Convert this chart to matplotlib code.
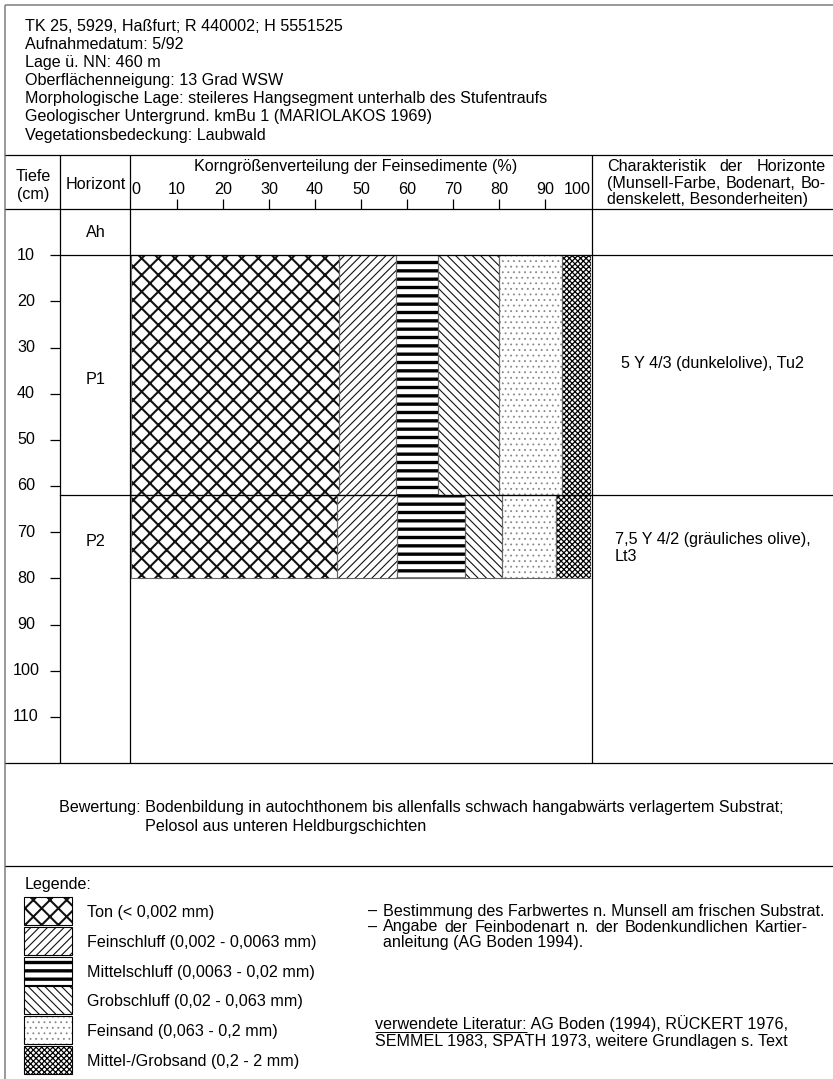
import matplotlib
matplotlib.use("Agg")
import matplotlib.pyplot as plt
import matplotlib.transforms as mtransforms
from matplotlib.patches import Rectangle
import numpy as np

# ---------------------------------------------------------------- data
header_lines = [
    "TK 25, 5929, Haßfurt; R 440002; H 5551525",
    "Aufnahmedatum: 5/92",
    "Lage ü. NN: 460 m",
    "Oberflächenneigung: 13 Grad WSW",
    "Morphologische Lage: steileres Hangsegment unterhalb des Stufentraufs",
    "Geologischer Untergrund. kmBu 1 (MARIOLAKOS 1969)",
    "Vegetationsbedeckung: Laubwald",
]

fractions = [
    "Ton (< 0,002 mm)",
    "Feinschluff (0,002 - 0,0063 mm)",
    "Mittelschluff (0,0063 - 0,02 mm)",
    "Grobschluff (0,02 - 0,063 mm)",
    "Feinsand (0,063 - 0,2 mm)",
    "Mittel-/Grobsand (0,2 - 2 mm)",
]

horizons = ["Ah", "P1", "P2"]
horizon_top = [0, 10, 62]
horizon_bottom = [10, 62, 80]

# grain size distribution (%) per sampled horizon
p1_values = [45.3, 12.4, 9.1, 13.3, 13.7, 6.2]
p2_values = [44.7, 13.2, 14.7, 8.1, 11.6, 7.7]
sampled = {"P1": p1_values, "P2": p2_values}

horizon_notes = {
    "P1": ["5 Y 4/3 (dunkelolive), Tu2"],
    "P2": ["7,5 Y 4/2 (gräuliches olive),", "Lt3"],
}

depth_ticks = [10, 20, 30, 40, 50, 60, 70, 80, 90, 100, 110]
pct_ticks = [0, 10, 20, 30, 40, 50, 60, 70, 80, 90, 100]
depth_max = 120

bewertung = [
    "Bewertung: Bodenbildung in autochthonem bis allenfalls schwach hangabwärts verlagertem Substrat;",
    "Pelosol aus unteren Heldburgschichten",
]
notes = [
    "Bestimmung des Farbwertes n. Munsell am frischen Substrat.",
    "Angabe der Feinbodenart n. der Bodenkundlichen Kartier-",
    "anleitung (AG Boden 1994).",
]
lit_head = "verwendete Literatur:"
lit_lines = [
    " AG Boden (1994), RÜCKERT 1976,",
    "SEMMEL 1983, SPÄTH 1973, weitere Grundlagen s. Text",
]

# ---------------------------------------------------------------- styles
hatches = ["xx", "////", "--", "\\\\\\\\", "...", "x" * 6]
hatch_lw = [1.5, 0.8, 2.4, 0.8, 0.6, 0.9]
hatch_col = ["#111111", "#111111", "#000000", "#111111", "#888888", "#000000"]

FS = 11.6
plt.rcParams["font.family"] = ["Liberation Sans", "DejaVu Sans"]
plt.rcParams["font.size"] = FS

W, H = 833, 1079
fig = plt.figure(figsize=(W / 100, H / 100), dpi=100)
fig.patch.set_facecolor("white")

# full-page layer in pixel units for frame and free text
ov = fig.add_axes([0, 0, 1, 1])
ov.set_xlim(0, W)
ov.set_ylim(H, 0)
ov.axis("off")

LINE = dict(color="black", lw=0.9, solid_capstyle="butt")


def hline(y, x0, x1, **kw):
    ov.plot([x0, x1], [y, y], **{**LINE, **kw})


def vline(x, y0, y1, **kw):
    ov.plot([x, x], [y0, y1], **{**LINE, **kw})


# table geometry (pixels)
X_LEFT, X_TIEFE, X_HOR, X_CHART_R, X_RIGHT = 5, 60, 130, 592, 833
Y_TOP, Y_HEAD, Y_COLHEAD, Y_TABLE_B, Y_BEW_B = 5, 155, 209, 763, 866
X0_PCT, X100_PCT = 131, 591

# frame
hline(Y_TOP, X_LEFT, X_RIGHT, color="#888888", lw=1.2)
vline(X_LEFT, Y_TOP, H, color="#888888", lw=1.2)
for y in (Y_HEAD, Y_COLHEAD, Y_TABLE_B, Y_BEW_B):
    hline(y, X_LEFT, X_RIGHT)
for x in (X_TIEFE, X_HOR, X_CHART_R):
    vline(x, Y_HEAD, Y_TABLE_B)

# header block
for i, s in enumerate(header_lines):
    ov.text(25, 31 + 18.1 * i, s, ha="left", va="baseline", fontsize=FS)

# column headings
ov.text(33, 181, "Tiefe", ha="center", va="baseline")
ov.text(33, 199, "(cm)", ha="center", va="baseline")
ov.text(96, 189, "Horizont", ha="center", va="baseline")
ov.text(356, 171, "Korngrößenverteilung der Feinsedimente (%)", ha="center", va="baseline")

fig.canvas.draw()
renderer = fig.canvas.get_renderer()


def text_width(s, **kw):
    t = ov.text(0, 0, s, **kw)
    w = t.get_window_extent(renderer).width
    t.remove()
    return w


def justified(words, x0, x1, y, **kw):
    widths = [text_width(w, **kw) for w in words]
    gap = (x1 - x0 - sum(widths)) / (len(words) - 1)
    x = x0
    for w, wd in zip(words, widths):
        ov.text(x, y, w, ha="left", va="baseline", **kw)
        x += wd + gap


justified(["Charakteristik", "der", "Horizonte"], 607, 826, 171)
justified(["(Munsell-Farbe,", "Bodenart,", "Bo-"], 607, 826, 188)
ov.text(607, 204, "denskelett, Besonderheiten)", ha="left", va="baseline")

# ---------------------------------------------------------------- profile chart
fb = 1 - Y_TABLE_B / H
fh = (Y_TABLE_B - Y_COLHEAD) / H
ax = fig.add_axes([X0_PCT / W, fb, (X100_PCT - X0_PCT) / W, fh])
ax.set_xlim(0, 100)
ax.set_ylim(depth_max, 0)
ax.patch.set_visible(False)
for sp in ax.spines.values():
    sp.set_visible(False)
ax.tick_params(left=False, labelleft=False, bottom=False, labelbottom=False)
ax.xaxis.tick_top()
ax.set_xticks(pct_ticks)
ax.set_xticklabels([str(v) for v in pct_ticks])
ax.tick_params(axis="x", top=True, labeltop=True, direction="out",
               length=7.2, width=0.9, pad=1.5, labelsize=FS)
mt = ax.xaxis.get_major_ticks()
mt[0].tick2line.set_visible(False)
mt[-1].tick2line.set_visible(False)
mt[0].label2.set_horizontalalignment("left")
mt[-1].label2.set_horizontalalignment("right")


def set_hlw(patch, lw):
    if hasattr(patch, "set_hatch_linewidth"):
        patch.set_hatch_linewidth(lw)


for name, vals in sampled.items():
    k = horizons.index(name)
    top, bot = horizon_top[k], horizon_bottom[k]
    lefts = np.concatenate([[0], np.cumsum(vals)[:-1]])
    for j, (v, l) in enumerate(zip(vals, lefts)):
        with plt.rc_context({"hatch.linewidth": hatch_lw[j]}):
            bars = ax.barh((top + bot) / 2, v, left=l, height=bot - top,
                           facecolor="white", edgecolor=hatch_col[j],
                           linewidth=0, hatch=hatches[j], zorder=2)
        for b in bars:
            set_hlw(b, hatch_lw[j])
    ax.barh((top + bot) / 2, vals, left=lefts, height=bot - top,
            fill=False, edgecolor="#666666", linewidth=0.8, zorder=3)

# horizon boundaries across the horizon, chart and description columns
x_from = (X_TIEFE - X0_PCT) / (X100_PCT - X0_PCT)
x_to = (X_RIGHT - X0_PCT) / (X100_PCT - X0_PCT)
for d in horizon_bottom[:-1]:
    ax.axhline(d, xmin=x_from, xmax=x_to, color="black", lw=0.9, clip_on=False, zorder=4)

# horizon names
hx = (96 - X0_PCT) / (X100_PCT - X0_PCT)
ht = mtransforms.blended_transform_factory(ax.transAxes, ax.transData)
label_depth = {"Ah": 5, "P1": 37, "P2": 72}
for name in horizons:
    ax.text(hx, label_depth[name], name, transform=ht, ha="center",
            va="center", fontsize=FS, clip_on=False)

# horizon descriptions
nx = {"P1": 621, "P2": 615}
ny = {"P1": 368, "P2": 544}
for name, lines in horizon_notes.items():
    for i, s in enumerate(lines):
        ov.text(nx[name], ny[name] + 17 * i, s, ha="left", va="baseline")

# depth scale in the Tiefe column
dax = fig.add_axes([X_LEFT / W, fb, (X_TIEFE - X_LEFT) / W, fh])
dax.set_ylim(depth_max, 0)
dax.set_xlim(0, 1)
dax.patch.set_visible(False)
for sp in dax.spines.values():
    sp.set_visible(False)
dax.set_xticks([])
dax.set_yticks(depth_ticks)
dax.tick_params(axis="y", left=False, labelleft=False, right=True, labelright=False,
                direction="in", length=7.2, width=0.9)
dt = mtransforms.blended_transform_factory(dax.transAxes, dax.transData)
for d in depth_ticks:
    dax.text((26 - X_LEFT) / (X_TIEFE - X_LEFT), d, str(d), transform=dt,
             ha="center", va="center", fontsize=FS)

# ---------------------------------------------------------------- assessment
ov.text(59, 812, bewertung[0], ha="left", va="baseline")
ov.text(59 + text_width("Bewertung: "), 831, bewertung[1], ha="left", va="baseline")

# ---------------------------------------------------------------- legend
ov.text(25, 889, "Legende:", ha="left", va="baseline")
for j, name in enumerate(fractions):
    top = 897 + 29.8 * j
    with plt.rc_context({"hatch.linewidth": hatch_lw[j]}):
        sw = Rectangle((24, top), 48, 28, facecolor="white", edgecolor=hatch_col[j],
                       linewidth=0, hatch=hatches[j])
    set_hlw(sw, hatch_lw[j])
    ov.add_patch(sw)
    ov.add_patch(Rectangle((24, top), 48, 28, fill=False, edgecolor="black", linewidth=0.8))
    ov.text(87, top + 20, name, ha="left", va="baseline")

# remarks
for i, s in enumerate(notes):
    y = 916 + 15.5 * i
    if i < 2:
        ov.text(368, y, "–", ha="left", va="baseline")
    if i == 1:
        justified(s.split(" "), 383, 808, y)
    else:
        ov.text(383, y, s, ha="left", va="baseline")

wl = text_width(lit_head)
ov.text(375, 1029, lit_head, ha="left", va="baseline")
hline(1032, 375, 375 + wl, lw=0.7)
ov.text(375 + wl, 1029, lit_lines[0], ha="left", va="baseline")
ov.text(375, 1046, lit_lines[1], ha="left", va="baseline")

fig.savefig("out.png", dpi=100, facecolor="white")
